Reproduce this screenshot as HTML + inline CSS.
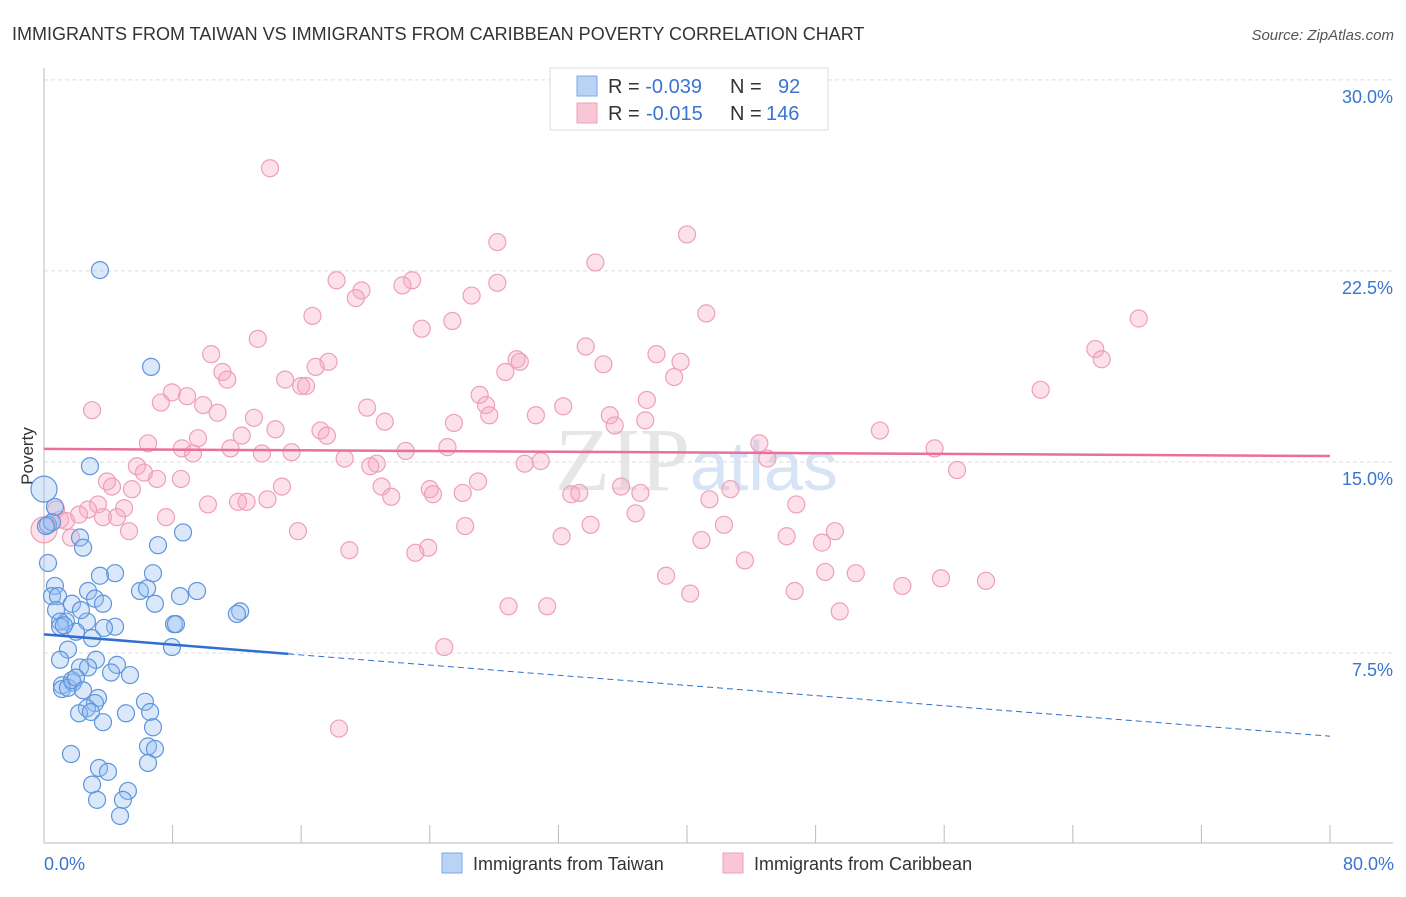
<!DOCTYPE html>
<html><head><meta charset="utf-8"><style>
body{margin:0;background:#fff;font-family:"Liberation Sans",sans-serif}
</style></head><body>
<svg id="chart" width="1406" height="892" xmlns="http://www.w3.org/2000/svg" font-family="Liberation Sans, sans-serif">
<text x="12" y="40" font-size="18" fill="#333">IMMIGRANTS FROM TAIWAN VS IMMIGRANTS FROM CARIBBEAN POVERTY CORRELATION CHART</text>
<text x="1394" y="40" font-size="15" fill="#555" text-anchor="end" font-style="italic">Source: ZipAtlas.com</text>
<text x="555" y="490" font-size="90" fill="#e6e6e6" font-family="Liberation Serif, serif">ZIP<tspan fill="#d6e4f5" font-family="Liberation Sans, sans-serif" font-size="70">atlas</tspan></text>
<g id="grid"></g>
<line x1="44" y1="68" x2="44" y2="843" stroke="#bbb"/>
<line x1="44" y1="843" x2="1393" y2="843" stroke="#bbb"/>
<g id="xticks"></g>
<text transform="translate(33,456) rotate(-90)" font-size="17" fill="#333" text-anchor="middle">Poverty</text>
<text x="44" y="870" font-size="18" fill="#3a74d0">0.0%</text>
<text x="1394" y="870" font-size="18" fill="#3a74d0" text-anchor="end">80.0%</text>
<g id="pink"></g><g id="blue"></g><g id="trends"></g>
<g>
<rect x="550" y="68" width="278" height="62" fill="#fff" stroke="#ddd"/>
<rect x="577" y="76" width="20" height="20" fill="#b9d3f5" stroke="#7aa8e6"/>
<rect x="577" y="103" width="20" height="20" fill="#f9c6d5" stroke="#eea0b8"/>
<text x="608" y="93" font-size="20" fill="#333">R = <tspan fill="#3a74d0">-0.039</tspan><tspan x="730">N =</tspan><tspan x="778" fill="#3a74d0">92</tspan></text>
<text x="608" y="120" font-size="20" fill="#333">R = <tspan x="646" fill="#3a74d0">-0.015</tspan><tspan x="730">N =</tspan><tspan x="766" fill="#3a74d0">146</tspan></text>
</g>
<g>
<rect x="442" y="853" width="20" height="20" fill="#b9d3f5" stroke="#7aa8e6"/>
<text x="473" y="870" font-size="18" fill="#333">Immigrants from Taiwan</text>
<rect x="723" y="853" width="20" height="20" fill="#f9c6d5" stroke="#eea0b8"/>
<text x="754" y="870" font-size="18" fill="#333">Immigrants from Caribbean</text>
</g>
</svg>
<script>
const yTicks=[30,22.5,15,7.5];
const yTickLabels=["30.0%","22.5%","15.0%","7.5%"];
const xTicks=[0,8,16,24,32,40,48,56,64,72,80];
const blueX=[3.48,6.66,2.86,0,0.25,2.24,2.43,7.09,8.65,0.25,4.42,6.78,0.68,2.74,3.48,5.97,6.41,9.52,8.46,0.5,0.87,1.74,3.17,3.67,6.9,0.75,1.37,1.0,2.67,12.2,12.0,8.09,8.21,4.42,3.73,1.0,1.99,2.99,7.96,1.49,1.0,3.23,4.54,2.24,2.74,4.17,5.35,1.12,1.8,1.12,1.49,1.74,1.99,2.43,3.36,3.17,2.67,2.18,2.92,5.1,6.28,6.6,3.67,6.78,6.47,6.9,1.68,6.47,3.42,3.98,2.99,5.22,3.3,4.91,4.73,0.68,0.5,0.12,2.3,1.24];
const blueY=[23.2,19.4,15.5,14.6,13.2,12.7,12.3,12.4,12.9,11.7,11.3,11.3,10.8,10.6,11.2,10.6,10.7,10.6,10.4,10.4,10.4,10.1,10.3,10.1,10.1,9.85,9.4,9.4,9.4,9.8,9.7,9.3,9.3,9.2,9.15,9.2,9.0,8.75,8.4,8.3,7.9,7.9,7.7,7.6,7.6,7.4,7.3,6.9,7.0,6.75,6.8,7.1,7.2,6.7,6.4,6.2,6.0,5.8,5.85,5.8,6.25,5.85,5.45,5.25,4.5,4.4,4.2,3.85,3.65,3.5,3.0,2.75,2.4,2.4,1.77,13.9,13.3,13.15,9.85,9.25];
const pinkX=[14.06,28.2,40.0,34.3,18.2,22.9,22.3,28.2,19.75,19.4,26.6,16.7,25.4,41.2,68.1,23.5,13.3,33.7,38.1,65.4,65.8,10.4,29.4,29.6,17.7,39.6,34.8,16.9,11.1,11.4,28.7,39.2,15.0,16.0,16.3,7.96,8.9,62.0,27.1,37.5,7.27,9.9,20.1,27.5,32.3,2.99,10.8,27.7,30.6,35.2,13.06,21.2,25.5,37.4,35.5,14.4,17.2,52.0,17.6,12.3,9.58,6.47,44.5,11.6,25.1,8.58,22.5,15.4,55.4,9.27,13.56,18.7,45.0,30.9,29.9,20.7,20.3,5.78,56.8,6.22,7.03,8.52,4.23,21.0,14.8,27.0,35.9,42.7,3.92,5.47,24.0,26.05,32.8,33.3,37.1,21.6,24.2,12.07,12.6,13.9,10.2,41.4,46.8,3.36,4.98,2.74,0.75,2.18,3.67,4.54,7.59,36.8,1.0,1.37,42.3,34.0,26.2,15.8,5.29,49.2,46.2,40.9,32.2,48.4,1.68,0,19.0,23.9,23.1,43.6,38.7,48.6,50.5,55.8,58.6,53.4,40.2,46.7,28.9,31.3,49.5,24.9,18.35];
const pinkY=[27.2,24.3,24.6,23.5,22.8,22.8,22.6,22.7,22.4,22.1,22.2,21.4,21.2,21.5,21.3,20.9,20.5,20.2,19.9,20.1,19.7,19.9,19.7,19.6,19.6,19.6,19.5,19.4,19.2,18.9,19.2,19.0,18.9,18.65,18.65,18.4,18.25,18.5,18.3,18.1,18.0,17.9,17.8,17.9,17.85,17.7,17.6,17.5,17.5,17.5,17.4,17.25,17.2,17.3,17.1,16.95,16.9,16.9,16.7,16.7,16.6,16.4,16.4,16.2,16.25,16.2,16.1,16.05,16.2,16.0,16.0,15.8,15.8,15.7,15.6,15.6,15.5,15.5,15.35,15.25,15.0,15.0,14.7,14.7,14.7,14.9,14.7,14.6,14.9,14.6,14.6,14.45,14.4,14.45,14.45,14.3,14.4,14.1,14.1,14.2,14.0,14.2,14.0,14.0,13.85,13.8,13.8,13.6,13.5,13.5,13.5,13.65,13.4,13.35,13.2,13.2,13.15,12.95,12.95,12.95,12.75,12.6,12.75,12.5,12.7,13.0,12.2,12.3,12.1,11.8,11.2,11.35,11.3,11.1,11.0,10.8,10.5,10.6,10.0,10.0,9.8,8.4,5.2];
const blueTrend=[8.9,8.13,4.9];
const pinkTrend=[16.18,15.9];
const xs=v=>44+v/80*1286;
const ys=v=>861-v*25.47;
const NS="http://www.w3.org/2000/svg";
function mk(tag,attrs,parent){const e=document.createElementNS(NS,tag);for(const k in attrs)e.setAttribute(k,attrs[k]);document.getElementById(parent).appendChild(e);return e;}
yTicks.forEach((t,i)=>{
 const g=mk('line',{x1:44,x2:1393,y1:ys(t)-17,y2:ys(t)-17,stroke:'#ddd','stroke-dasharray':'4,3'},'grid');
 
 
 const l=mk('text',{x:1393,y:ys(t)+6,'font-size':18,fill:'#3a74d0','text-anchor':'end'},'grid');
 l.textContent=yTickLabels[i];
 
 
});
xTicks.forEach(t=>{
 const e=mk('line',{x1:xs(t),x2:xs(t),y1:825,y2:843,stroke:'#bbb'},'xticks');
 
 
});
pinkX.forEach((x,i)=>{
 const c=mk('circle',{cx:xs(x),cy:ys(pinkY[i]),r:x===0?13:8.5,fill:'rgba(246,170,195,0.35)',stroke:'#eea0b8','stroke-width':1.2},'pink');
 
 
});
blueX.forEach((x,i)=>{
 const c=mk('circle',{cx:xs(x),cy:ys(blueY[i]),r:x===0?13:8.5,fill:'rgba(150,190,240,0.35)',stroke:'#5f95dc','stroke-width':1.2},'blue');
 
 
});
let t=mk('line',{x1:xs(0),y1:ys(pinkTrend[0]),x2:xs(80),y2:ys(pinkTrend[1]),stroke:'#e8709a','stroke-width':2.5},'trends');


t=mk('line',{x1:xs(0),y1:ys(blueTrend[0]),x2:xs(15.2),y2:ys(blueTrend[1]),stroke:'#2f6fd0','stroke-width':2.5},'trends');


t=mk('line',{x1:xs(15.2),y1:ys(blueTrend[1]),x2:xs(80),y2:ys(blueTrend[2]),stroke:'#2f6fd0','stroke-width':1,'stroke-dasharray':'6,4'},'trends');


</script>
</body></html>
